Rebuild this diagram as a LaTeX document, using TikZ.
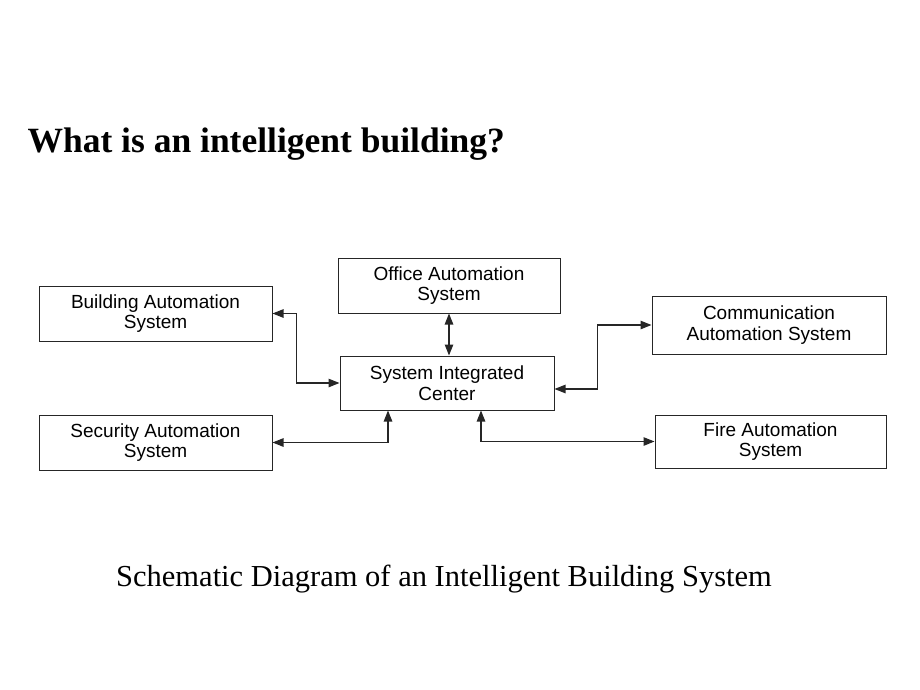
\documentclass[tikz,border=0pt]{standalone}
\usepackage{fontspec}
\setmainfont{Liberation Serif}
\newfontfamily\boxfont{Liberation Sans}
\usetikzlibrary{arrows.meta}
\begin{document}
\begin{tikzpicture}[x=1pt,y=-1pt,
  sysbox/.style={draw=black!85, line width=1pt, rectangle, align=center, inner sep=0pt,
    font=\boxfont\fontsize{19}{20.5}\selectfont},
  link/.style={draw=black!85, line width=1.1pt, {Triangle[length=11pt,width=8.5pt]}-{Triangle[length=11pt,width=8.5pt]}}]
\path[use as bounding box, fill=white] (0,0) rectangle (920,690);
\node[anchor=base west, font=\bfseries\fontsize{35.5}{40}\selectfont] (title) at (24,152) {What is an intelligent building?};
\node[sysbox, minimum width=222pt, minimum height=55pt] (oas) at (449,285.5) {Office Automation\\System};
\node[sysbox, minimum width=233pt, minimum height=55pt] (bas) at (155.5,313.5) {Building Automation\\System};
\node[sysbox, minimum width=234pt, minimum height=58pt] (cas) at (769,325) {Communication\\Automation System};
\node[sysbox, minimum width=214pt, minimum height=54pt] (sic) at (447,383) {System Integrated\\Center};
\node[sysbox, minimum width=233pt, minimum height=55pt] (sas) at (155.5,442.5) {Security Automation\\System};
\node[sysbox, minimum width=231pt, minimum height=53pt] (fas) at (770.5,441.5) {Fire Automation\\System};
\draw[link] (oas.south) -- (oas.south |- sic.north);
\draw[link] (bas.east) -- ++(24,0) |- (sic.west);
\draw[link] ([yshift=-6pt]sic.east) -- ++(43,0) |- (cas.west);
\draw[link] (sas.east) -| ([xshift=-59pt]sic.south);
\draw[link] (fas.west) -| ([xshift=34pt]sic.south);
\node[anchor=base, font=\fontsize{30.5}{35}\selectfont] (caption) at (444,586) {Schematic Diagram of an Intelligent Building System};
\end{tikzpicture}
\end{document}
